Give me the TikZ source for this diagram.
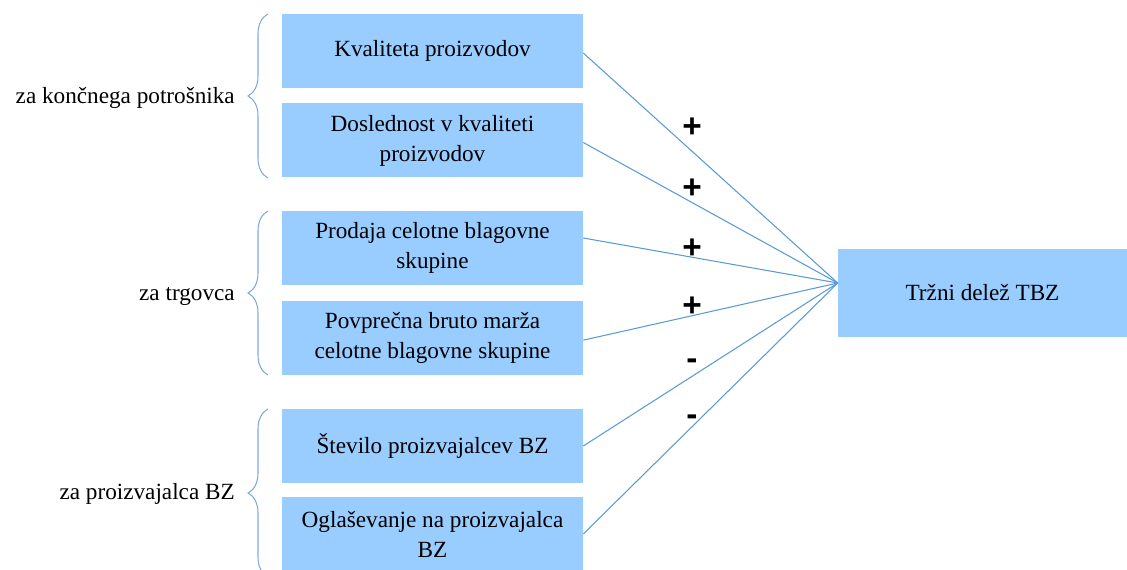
\documentclass[tikz,border=0pt]{standalone}
\usepackage{fontspec}
\setmainfont{Liberation Serif}
\newfontfamily\signfont{Liberation Sans}
\usetikzlibrary{decorations.pathreplacing}

\begin{document}
\begin{tikzpicture}[x=0.75pt,y=-0.75pt,
	factor/.style={fill=boxblue, inner sep=0pt, minimum width=225.75pt, minimum height=55.5pt, align=center, font=\fontsize{17.4}{22.5}\selectfont},
	group/.style={anchor=east, inner sep=0pt, font=\fontsize{17.4}{22.5}\selectfont},
	link/.style={draw=linkblue, line width=0.8pt},
	bracket/.style={draw=braceblue, line width=0.8pt, decorate, decoration={brace, amplitude=15pt}},
	sign/.style={inner sep=0pt, text height=0.7em, text depth=0pt, font=\signfont\bfseries\fontsize{25}{30}\selectfont}]
	\definecolor{boxblue}{HTML}{99CCFF}
	\definecolor{linkblue}{HTML}{5B9BD5}
	\definecolor{braceblue}{HTML}{80AADC}
	\useasboundingbox (0,0) rectangle (1127,570);
	%% Factors ------
	\node[factor] (kval) at (432.5,51) {Kvaliteta proizvodov};
	\node[factor] (dosl) at (432.5,140.5) {Doslednost v kvaliteti\\proizvodov};
	\node[factor] (prod) at (432.5,248) {Prodaja celotne blagovne\\skupine};
	\node[factor] (marza) at (432.5,337.5) {Povprečna bruto marža\\celotne blagovne skupine};
	\node[factor] (stev) at (432.5,446) {Število proizvajalcev BZ};
	\node[factor] (ogl) at (432.5,534) {Oglaševanje na proizvajalca\\BZ};
	\node[factor, minimum width=216.75pt, minimum height=66pt] (delez) at (982.5,293) {Tržni delež TBZ};
	%% Groups ------
	\node[group] (potr) at (235,98) {za končnega potrošnika};
	\node[group] (trg) at (235,296) {za trgovca};
	\node[group] (proi) at (235,494) {za proizvajalca BZ};
	\draw[bracket] (268,178) -- (268,14);
	\draw[bracket] (268,375) -- (268,211);
	\draw[bracket] (268,577) -- (268,409);
	%% Links ---------
	\coordinate (hub) at ([yshift=7.5pt]delez.west);
	\draw[link] ([yshift=-1.5pt]kval.east) -- (hub);
	\draw[link] ([yshift=-1.5pt]dosl.east) -- (hub);
	\draw[link] ([yshift=7.5pt]prod.east) -- (hub);
	\draw[link] ([yshift=-2pt]marza.east) -- (hub);
	\draw[link] (stev.east) -- (hub);
	\draw[link] (ogl.east) -- (hub);
	%% Signs ---------
	\node[sign] (s1) at (692,133) {+};
	\node[sign] (s2) at (692,194) {+};
	\node[sign] (s3) at (692,254) {+};
	\node[sign] (s4) at (692,312) {+};
	\node[sign] (s5) at (692,365) {-};
	\node[sign] (s6) at (692,421) {-};
\end{tikzpicture}
\end{document}
